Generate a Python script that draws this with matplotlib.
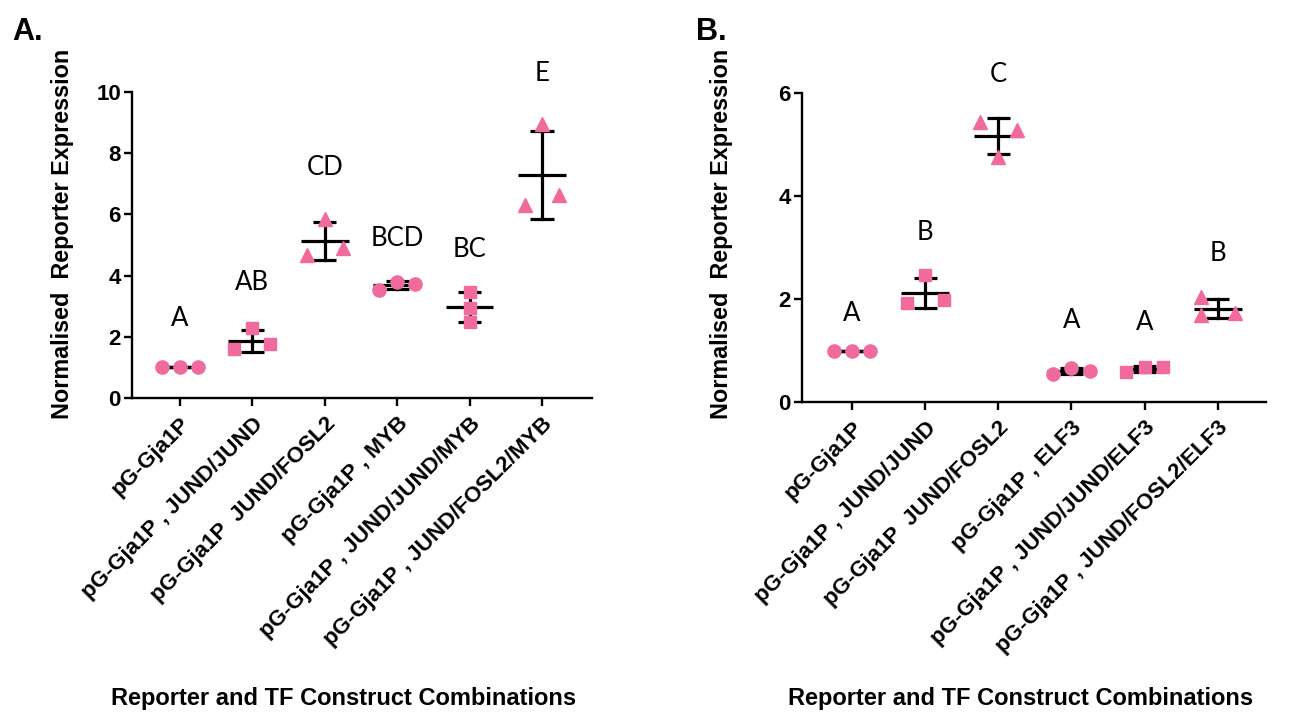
import numpy as np
import matplotlib
matplotlib.use("Agg")
import matplotlib.pyplot as plt

# ---------------- data ----------------
labels_a = ["pG-Gja1P", "pG-Gja1P , JUND/JUND", "pG-Gja1P  JUND/FOSL2",
            "pG-Gja1P , MYB", "pG-Gja1P , JUND/JUND/MYB", "pG-Gja1P , JUND/FOSL2/MYB"]
values_a = [[1.0, 1.0, 1.0],
            [1.59, 2.28, 1.76],
            [4.66, 5.85, 4.90],
            [3.54, 3.79, 3.71],
            [3.46, 2.95, 2.48],
            [6.30, 8.95, 6.62]]
markers_a = ["o", "s", "^", "o", "s", "^"]
letters_a = ["A", "AB", "CD", "BCD", "BC", "E"]
letter_y_a = [2.59, 3.77, 7.53, 5.2, 4.86, 10.6]

labels_b = ["pG-Gja1P", "pG-Gja1P , JUND/JUND", "pG-Gja1P  JUND/FOSL2",
            "pG-Gja1P , ELF3", "pG-Gja1P , JUND/JUND/ELF3", "pG-Gja1P , JUND/FOSL2/ELF3"]
values_b = [[1.0, 1.0, 1.0],
            [1.92, 2.46, 1.98],
            [5.44, 4.76, 5.29],
            [0.55, 0.66, 0.60],
            [0.58, 0.68, 0.67],
            [2.03, 1.68, 1.73]]
markers_b = ["o", "s", "^", "o", "s", "^"]
letters_b = ["A", "B", "C", "A", "A", "B"]
letter_y_b = [1.72, 3.30, 6.36, 1.59, 1.55, 2.88]

# horizontal scatter of the replicate points
jitter_a = [[-0.25, 0, 0.25]] * 4 + [[0, 0, 0]] + [[-0.23, 0, 0.23]]
jitter_b = [[-0.25, 0, 0.25]] * 5 + [[-0.23, -0.23, 0.24]]

PINK = "#F06A9E"
FONT = ["Liberation Sans", "DejaVu Sans"]
LFONT = ["Lato", "DejaVu Sans"]

fig = plt.figure(figsize=(13.03, 7.13), dpi=100)
axA = fig.add_axes([132/1303, 1-398/713, 460/1303, 306/713])
axB = fig.add_axes([802/1303, 1-402/713, 464/1303, 309/713])


def draw(ax, labels, values, markers, letters, letter_y, jitter, ymax, yticks, xlim):
    x = np.arange(len(labels))
    for i, vals in enumerate(values):
        vals = np.asarray(vals)
        m = vals.mean()
        sd = vals.std(ddof=1)
        ax.plot([x[i]-0.33, x[i]+0.33], [m, m], color="black", lw=2.3, zorder=2,
                solid_capstyle="butt")
        ax.plot([x[i], x[i]], [m-sd, m+sd], color="black", lw=2.3, zorder=2)
        for yy in (m-sd, m+sd):
            ax.plot([x[i]-0.16, x[i]+0.16], [yy, yy], color="black", lw=2.3, zorder=2,
                    solid_capstyle="butt")
        ax.plot(x[i] + np.asarray(jitter[i]), vals, linestyle="none",
                marker=markers[i], ms={"o": 9.5, "s": 8.8, "^": 10.5}[markers[i]],
                color=PINK, mec=PINK, zorder=3, clip_on=False)
        ax.text(x[i], letter_y[i], letters[i], ha="center", va="center",
                fontsize=18.5, family=LFONT, clip_on=False)
    ax.set_xlim(*xlim)
    ax.set_ylim(0, ymax)
    ax.set_yticks(yticks)
    ax.set_xticks(x)
    ax.set_xticklabels(labels, rotation=45, ha="right", va="top",
                       rotation_mode="anchor", fontsize=16, fontweight="bold",
                       family=FONT)
    for t in ax.get_yticklabels():
        t.set_fontsize(16)
        t.set_fontweight("bold")
        t.set_family(FONT)
    ax.spines["top"].set_visible(False)
    ax.spines["right"].set_visible(False)
    for s in ("left", "bottom"):
        ax.spines[s].set_linewidth(1.7)
    ax.tick_params(axis="both", length=6, width=1.7, direction="out")
    ax.tick_params(axis="x", pad=5)
    ax.tick_params(axis="y", pad=2)
    ax.set_ylabel("Normalised  Reporter Expression", fontsize=16.8,
                  fontweight="bold", family=FONT)
    ax.set_xlabel("Reporter and TF Construct Combinations", fontsize=17,
                  fontweight="bold", family=FONT)


draw(axA, labels_a, values_a, markers_a, letters_a, letter_y_a, jitter_a,
     10, [0, 2, 4, 6, 8, 10], (-0.66, 5.69))
draw(axB, labels_b, values_b, markers_b, letters_b, letter_y_b, jitter_b,
     6, [0, 2, 4, 6], (-0.685, 5.66))

axA.yaxis.set_label_coords(-0.125, 0.536)
axB.yaxis.set_label_coords(-0.148, 0.544)
axA.xaxis.set_label_coords(0.46, -0.944)
axB.xaxis.set_label_coords(0.47, -0.922)

fig.text(12/1303, 1-40/713, "A.", fontsize=22, fontweight="bold", family=FONT)
fig.text(696/1303, 1-40/713, "B.", fontsize=22, fontweight="bold", family=FONT)

fig.savefig("out.png", dpi=100, facecolor="white")
